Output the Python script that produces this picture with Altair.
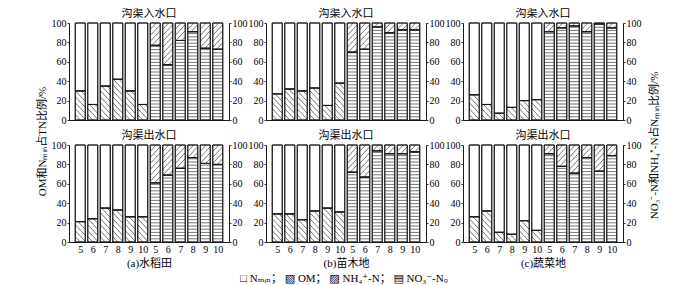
import altair as alt
import pandas as pd

# ---------------- data ----------------
months = ["5", "6", "7", "8", "9", "10"]
land_labels = ["(a)水稻田", "(b)苗木地", "(c)蔬菜地"]
site_labels = ["沟渠入水口", "沟渠出水口"]
legend_text = "□ Nₘᵢₙ；  ▧ OM；  ▨ NH₄⁺-N；  ▤ NO₃⁻-N。"
left_title = "OM和Nₘᵢₙ占TN比例/%"
right_title = "NO₃⁻-N和NH₄⁺-N占Nₘᵢₙ比例/%"

# OM share of TN (%), months 5-10 (remainder of the bar = Nmin)
om_in_a = [30, 16, 35, 42, 30, 16]
om_in_b = [27, 32, 30, 33, 15, 38]
om_in_c = [26, 16, 7, 13, 20, 21]
om_out_a = [21, 24, 35, 33, 26, 26]
om_out_b = [29, 29, 23, 32, 35, 31]
om_out_c = [26, 32, 10, 8, 22, 12]

# NO3- share of Nmin (%), months 5-10 (remainder of the bar = NH4+)
no3_in_a = [77, 57, 82, 91, 74, 73]
no3_in_b = [70, 73, 96, 90, 93, 93]
no3_in_c = [91, 95, 97, 91, 99, 95]
no3_out_a = [61, 69, 76, 87, 81, 80]
no3_out_b = [72, 67, 94, 91, 91, 93]
no3_out_c = [91, 78, 71, 87, 73, 89]

# ---------------- styling ----------------
W, H = 160, 97
SX = W / 12.0          # px per x unit
SY = H / 100.0         # px per y unit
HALF = 5.0             # half bar width, px
DIAG = 6.0             # vertical spacing of diagonal hatch, px
HORIZ = 3.2            # spacing of horizontal hatch, px
INK = "#1a1a1a"
LATIN = "'Liberation Serif', 'DejaVu Serif', 'Noto Sans CJK SC'"
CJK = "'Liberation Serif', 'Noto Sans CJK SC'"

x_labels = months + months
label_expr = "[" + ",".join("'%s'" % m for m in x_labels) + "][datum.value]"


def hatch_lines(center, y0, y1, kind):
    """Clip hatch lines of a bar segment, returned in data units."""
    rows = []
    v0, v1 = y0 * SY, y1 * SY
    if v1 - v0 < 0.5:
        return rows
    if kind == "horiz":
        n = int(v0 // HORIZ) + 1
        while n * HORIZ < v1 - 0.6:
            v = n * HORIZ
            rows.append((center - HALF / SX, v / SY, center + HALF / SX, v / SY))
            n += 1
    elif kind in ("slash", "back"):
        n = int((v0 - HALF) // DIAG) - 1
        while n * DIAG <= v1 + HALF + DIAG:
            k = n * DIAG
            if kind == "slash":      # v - u = k
                lo = max(-HALF, v0 - k)
                hi = min(HALF, v1 - k)
                if hi - lo > 0.4:
                    rows.append((center + lo / SX, (lo + k) / SY,
                                 center + hi / SX, (hi + k) / SY))
            else:                    # v + u = k
                lo = max(-HALF, k - v1)
                hi = min(HALF, k - v0)
                if hi - lo > 0.4:
                    rows.append((center + lo / SX, (k - lo) / SY,
                                 center + hi / SX, (k - hi) / SY))
            n += 1
    return rows


def panel(om, no3, row, col):
    segs = []
    for i, v in enumerate(om):
        segs.append(dict(x=i, y0=0, y1=v, kind="back"))
        segs.append(dict(x=i, y0=v, y1=100, kind="none"))
    for i, v in enumerate(no3):
        segs.append(dict(x=6 + i, y0=0, y1=v, kind="horiz"))
        segs.append(dict(x=6 + i, y0=v, y1=100, kind="slash"))
    seg_df = pd.DataFrame(segs)

    h_rows = []
    for s in segs:
        h_rows += hatch_lines(s["x"], s["y0"], s["y1"], s["kind"])
    h_df = pd.DataFrame(h_rows, columns=["hx", "hy", "hx2", "hy2"])

    xscale = alt.Scale(domain=[-0.5, 11.5], nice=False, zero=False)
    yscale = alt.Scale(domain=[0, 100], nice=False)

    if row == 1:
        xaxis = alt.Axis(values=list(range(12)), labelExpr=label_expr, ticks=False,
                         labelPadding=2, labelFlush=False,
                         title=land_labels[col], titleFont=CJK, titleFontSize=11,
                         titleFontWeight="normal", titlePadding=3, titleColor="black")
    else:
        xaxis = alt.Axis(values=list(range(12)), labels=False, ticks=False, title=None)

    left_kw = dict(orient="left", values=[0, 20, 40, 60, 80, 100], title=None)
    if row == 0 and col == 0:
        left_kw.update(title=left_title, titleX=-27, titleY=118, titleAngle=270,
                       titleBaseline="middle", titleAlign="center",
                       titleFont=CJK, titleFontSize=11, titleFontWeight="normal",
                       titleColor="black")
    right_kw = dict(orient="right", values=[0, 20, 40, 60, 80, 100], title=None)
    if row == 0 and col == 2:
        right_kw.update(title=right_title, titleX=31, titleY=122, titleAngle=270,
                        titleBaseline="middle", titleAlign="center",
                        titleFont=CJK, titleFontSize=11, titleFontWeight="normal",
                        titleColor="black")

    bars = alt.Chart(seg_df).mark_bar(
        orient="vertical", size=2 * HALF, fill="white", stroke=INK, strokeWidth=0.9
    ).encode(
        x=alt.X("x:Q", scale=xscale, axis=xaxis),
        y=alt.Y("y0:Q", scale=yscale, axis=alt.Axis(**left_kw)),
        y2="y1:Q",
    )
    hatch = alt.Chart(h_df).mark_rule(stroke=INK, strokeWidth=0.6).encode(
        x=alt.X("hx:Q", scale=xscale, axis=xaxis),
        x2="hx2:Q",
        y=alt.Y("hy:Q", scale=yscale, axis=alt.Axis(**right_kw)),
        y2="hy2:Q",
    )
    outline = alt.Chart(seg_df).mark_bar(
        orient="vertical", size=2 * HALF, fillOpacity=0, stroke=INK, strokeWidth=0.9
    ).encode(
        x=alt.X("x:Q", scale=xscale, axis=xaxis),
        y=alt.Y("y0:Q", scale=yscale, axis=None),
        y2="y1:Q",
    )
    return alt.layer(bars, hatch, outline).resolve_scale(y="independent").properties(
        width=W, height=H,
        title=alt.TitleParams(site_labels[row], font=CJK, fontSize=11,
                              fontWeight="normal", offset=-1, color="black"),
    )


data = [
    [(om_in_a, no3_in_a), (om_in_b, no3_in_b), (om_in_c, no3_in_c)],
    [(om_out_a, no3_out_a), (om_out_b, no3_out_b), (om_out_c, no3_out_c)],
]

panels = []
for r in range(2):
    for c in range(3):
        panels.append(panel(data[r][c][0], data[r][c][1], r, c))

chart = alt.concat(
    *panels, columns=3, spacing={"row": 25, "column": 37}, bounds="flush"
).properties(
    title=alt.TitleParams(legend_text, orient="bottom", anchor="middle", font=LATIN,
                          fontSize=11, fontWeight="normal", offset=5, color="black"),
    padding={"left": 28, "top": 0, "right": 5, "bottom": 5},
).configure_view(stroke=None).configure_axis(
    domainColor=INK, domainWidth=1, tickColor=INK, tickSize=2, tickWidth=0.9,
    labelFont=LATIN, labelFontSize=10, labelColor="black", labelPadding=1, grid=False,
).configure_title(color="black")

chart.save("out.html", embed_options={"renderer": "svg", "actions": False})
